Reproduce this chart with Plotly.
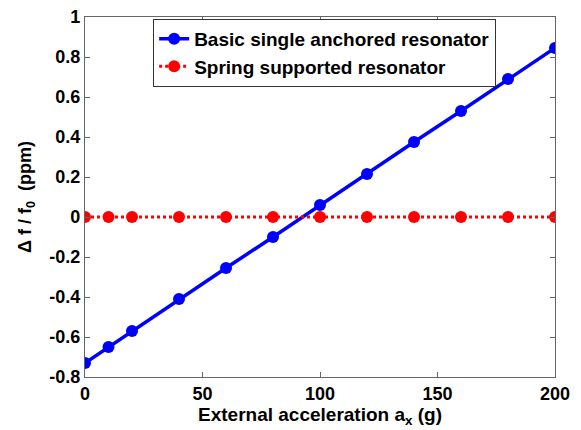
import plotly.graph_objects as go

accel_g = [0, 10, 20, 40, 60, 80, 100, 120, 140, 160, 180, 200]
basic_ppm = [-0.73, -0.65, -0.57, -0.41, -0.255, -0.10, 0.06, 0.215, 0.375, 0.53, 0.69, 0.845]
spring_ppm = [0, 0, 0, 0, 0, 0, 0, 0, 0, 0, 0, 0]

y_ticks = [-0.8, -0.6, -0.4, -0.2, 0, 0.2, 0.4, 0.6, 0.8, 1]
y_labels = ["-0.8", "-0.6", "-0.4", "-0.2", "0", "0.2", "0.4", "0.6", "0.8", "1"]
x_ticks = [0, 50, 100, 150, 200]
x_labels = ["0", "50", "100", "150", "200"]

font = "Liberation Sans, Arial, sans-serif"

fig = go.Figure()
fig.add_trace(go.Scatter(
    x=accel_g, y=basic_ppm, mode="lines+markers",
    name="<b>Basic single anchored resonator</b>",
    line=dict(color="#0000ff", width=3.5),
    marker=dict(symbol="circle", size=12, color="#0000ff"),
))
fig.add_trace(go.Scatter(
    x=accel_g, y=spring_ppm, mode="lines+markers",
    name="<b>Spring supported resonator</b>",
    line=dict(color="#ff0000", width=3, dash="dot"),
    marker=dict(symbol="circle", size=12, color="#ff0000"),
))

axis_common = dict(
    showgrid=False, zeroline=False, showline=True, linecolor="#666666", linewidth=1.3,
    mirror="ticks", ticks="inside", ticklen=5, tickcolor="#666666", automargin=False,
    tickfont=dict(family=font, size=18, color="black"),
)

fig.update_layout(
    width=581, height=430,
    margin=dict(l=85, r=26, t=17, b=53),
    paper_bgcolor="white", plot_bgcolor="white",
    font=dict(family=font, color="black"),
    showlegend=True,
    legend=dict(
        x=0.145, y=0.995, xanchor="left", yanchor="top",
        bgcolor="white", bordercolor="#333333", borderwidth=1,
        font=dict(family=font, size=19, color="black"),
        tracegroupgap=0, itemwidth=30,
    ),
    xaxis=dict(
        range=[0, 200], tickvals=x_ticks, ticktext=["<b>%s</b>" % t for t in x_labels],
        title=dict(text="<b>External acceleration a<sub>x</sub> (g)</b>", font=dict(family=font, size=19), standoff=0),
        **axis_common,
    ),
    yaxis=dict(
        range=[-0.8, 1], tickvals=y_ticks, ticktext=["<b>%s</b>" % t for t in y_labels],
        title=dict(text="<b>Δ f / f<sub>0</sub>  (ppm)</b>", font=dict(family=font, size=18), standoff=12),
        **axis_common,
    ),
)

fig.write_html("out.html", post_script="document.body.style.margin='0';",
               config={"displayModeBar": False})
